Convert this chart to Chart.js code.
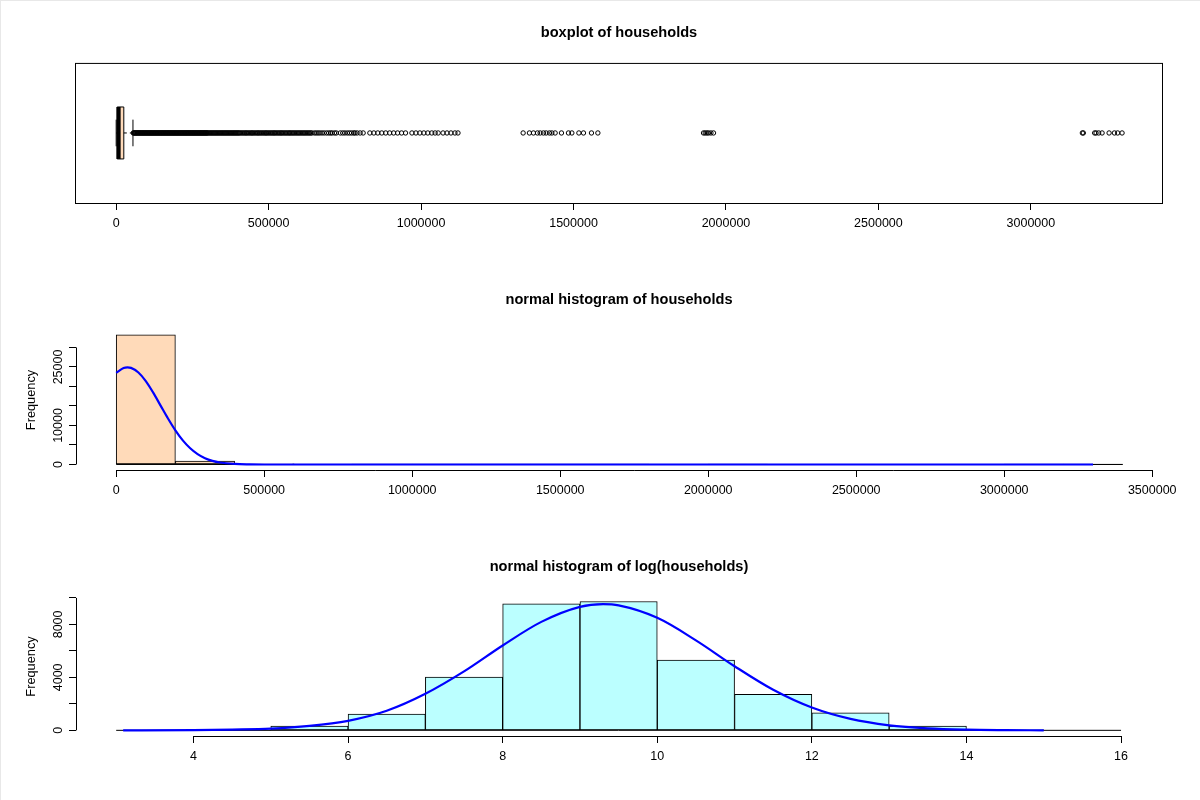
<!DOCTYPE HTML>
<html>
<head>
    <meta charset="utf-8">
    <script src="https://cdn.jsdelivr.net/npm/chart.js"></script>
    <style>
        html, body { margin: 0; padding: 0; background: white; overflow: hidden; }
        canvas { position: absolute; left: 0; }
        #edgeTop { position: absolute; left: 0; top: 0; width: 1200px; height: 1px; background: #e8e8e8; z-index: 2; }
        #edgeLeft { position: absolute; left: 0; top: 0; width: 1px; height: 800px; background: #e8e8e8; z-index: 2; }
    </style>
</head>
<body>

<canvas id="boxChart" width="1200" height="267" style="top:0"></canvas>
<canvas id="histChart" width="1200" height="267" style="top:267px"></canvas>
<canvas id="logChart" width="1200" height="266" style="top:534px"></canvas>
<div id="edgeTop"></div>
<div id="edgeLeft"></div>

<script type="text/javascript">
    const titles = ['boxplot of households', 'normal histogram of households', 'normal histogram of log(households)'];
    const yTitle = 'Frequency';

    // boxplot: min, q1, median, q3, upper whisker
    const boxStats = [0, 3300, 9000, 25000, 55000];
    const boxTicks = [0, 500000, 1000000, 1500000, 2000000, 2500000, 3000000];
    const outliers = [
        56000, 58000, 60000, 62000, 64000, 66000, 68000, 70000, 72000, 74000, 76000, 78000, 80000, 82000, 84000,
        86000, 88000, 90000, 92000, 94000, 96000, 98000, 100000, 102000, 104000, 106000, 108000, 110000, 112000,
        114000, 116000, 118000, 120000, 122000, 124000, 126000, 128000, 130000, 132000, 134000, 136000, 138000,
        140000, 142000, 144000, 146000, 148000, 150000, 152000, 154000, 156000, 158000, 160000, 162000, 164000,
        166000, 168000, 170000, 172000, 174000, 176000, 178000, 180000, 182000, 184000, 186000, 188000, 190000,
        192000, 194000, 196000, 198000, 200000, 202000, 204000, 206000, 208000, 210000, 212000, 214000, 216000,
        218000, 220000, 222000, 224000, 226000, 228000, 230000, 232000, 234000, 236000, 238000, 240000, 242000,
        244000, 246000, 248000, 250000, 252000, 254000, 256000, 258000, 260000, 262000, 264000, 266000, 268000,
        270000, 272000, 274000, 276000, 278000, 280000, 282000, 284000, 286000, 288000, 290000, 292000, 294000,
        296000, 298000, 300000, 303000, 306000, 309000, 312000, 315000, 318000, 321000, 324000, 327000, 330000,
        333000, 336000, 339000, 342000, 345000, 348000, 351000, 354000, 357000, 360000, 363000, 366000, 369000,
        372000, 375000, 378000, 381000, 384000, 387000, 390000, 393000, 396000, 399000, 402000, 405000, 409000,
        413000, 417000, 421000, 425000, 428000, 432000, 436000, 440000, 444000, 447000, 451000, 455000, 459000,
        463000, 466000, 470000, 474000, 478000, 482000, 486000, 490000, 493000, 497000, 501000, 505000, 509000,
        513000, 517000, 520000, 524000, 528000, 532000, 536000, 540000, 543000, 547000, 551000, 555000, 559000,
        563000, 567000, 570000, 574000, 578000, 582000, 586000, 590000, 594000, 598000, 602000, 606000, 610000,
        614000, 618000, 622000, 626000, 630000, 634000, 638000, 642000, 650000, 656000, 662000, 668000, 675000,
        682000, 690000, 697000, 703000, 708000, 716000, 722000, 735000, 743000, 750000, 758000, 765000, 772000,
        779000, 783000, 790000, 800000, 810000, 832000, 845000, 858000, 871000, 884000, 897000, 910000, 923000,
        936000, 949000, 970000, 983000, 996000, 1009000, 1022000, 1035000, 1046000, 1056000, 1072000, 1085000,
        1098000, 1111000, 1121000,
        1334700, 1355300, 1368500, 1381600, 1390500, 1401300, 1410200, 1421000, 1428900, 1439700, 1460400,
        1483400, 1494500, 1517500, 1532600, 1558800, 1579800,
        1926300, 1931800, 1937400, 1942700, 1950600, 1959100,
        3168800, 3172000, 3209100, 3213700, 3222300, 3233500, 3256500, 3273900, 3284600, 3299000
    ];

    // histogram of households
    const histBreaks = [0, 200000, 400000, 600000, 800000, 1000000, 1200000, 1400000, 1600000, 1800000, 2000000,
        2200000, 2400000, 2600000, 2800000, 3000000, 3200000, 3400000];
    const histCounts = [33200, 900, 200, 50, 20, 10, 5, 5, 3, 0, 3, 0, 0, 0, 0, 2, 3];
    const histCurveX = [0, 25000, 38000, 50000, 75000, 100000, 125000, 150000, 175000, 200000, 225000, 250000, 275000, 300000, 325000, 350000, 400000, 450000, 500000, 3300000];
    const histCurveY = [23500, 24730, 24900, 24760, 23570, 21370, 18420, 15100, 11790, 8750, 6170, 4150, 2660, 1610, 930, 520, 135, 28, 0, 0];
    const histXTicks = [0, 500000, 1000000, 1500000, 2000000, 2500000, 3000000, 3500000];
    const histYTicks = [0, 5000, 10000, 15000, 20000, 25000, 30000];
    const histYLabels = [0, 10000, 25000];

    // histogram of log(households)
    const logBreaks = [3, 4, 5, 6, 7, 8, 9, 10, 11, 12, 13, 14, 15, 16];
    const logCounts = [0, 20, 330, 1220, 4030, 9550, 9730, 5300, 2720, 1320, 320, 30, 0];
    const logCurveX = [3.09, 4, 4.5, 5, 5.5, 6, 6.5, 7, 7.5, 8, 8.5, 9, 9.3, 9.5, 10, 10.5, 11, 11.5, 12, 12.5, 13, 13.5, 14, 14.5, 15];
    const logCurveY = [0, 12, 55, 125, 330, 720, 1480, 2760, 4450, 6410, 8190, 9325, 9525, 9435, 8495, 6795, 4840, 3060, 1720, 860, 380, 150, 53, 17, 0];
    const logXTicks = [4, 6, 8, 10, 12, 14, 16];
    const logYTicks = [0, 2000, 4000, 6000, 8000, 10000];
    const logYLabels = [0, 4000, 8000];

    const peach = '#FFDAB9';
    const cyan = '#BBFFFF';
    const tickFont = { size: 12.5 };

    Chart.defaults.color = 'black';
    Chart.defaults.font.family = '"Liberation Sans", Arial, sans-serif';
    Chart.defaults.font.size = 12;
    Chart.defaults.animation = false;

    // R draws the axis line only from first to last tick
    const axisLines = {
        id: 'axisLines',
        afterDraw(chart, args, opts) {
            const ctx = chart.ctx;
            const a = chart.chartArea;
            ctx.save();
            ctx.strokeStyle = 'black';
            ctx.lineWidth = 1;
            if (opts.frame) {
                ctx.strokeRect(a.left - 0.5, a.top + 0.5, a.right - a.left + 1, a.bottom - a.top);
            } else {
                const x = chart.scales.x, y = chart.scales.y;
                ctx.beginPath();
                ctx.moveTo(x.getPixelForTick(0), a.bottom + 0.5);
                ctx.lineTo(x.getPixelForTick(x.ticks.length - 1), a.bottom + 0.5);
                ctx.moveTo(a.left + 0.5, y.getPixelForTick(0));
                ctx.lineTo(a.left + 0.5, y.getPixelForTick(y.ticks.length - 1));
                ctx.stroke();
            }
            ctx.restore();
        }
    };

    function titleOptions(text) {
        return {
            display: true,
            text: text,
            fullSize: false,
            font: { size: 14.6, weight: 'bold' },
            padding: { top: 24.4, bottom: 21 }
        };
    }

    function xScale(min, max, ticks) {
        return {
            type: 'linear',
            min: min,
            max: max,
            offset: false,
            afterBuildTicks: s => { s.ticks = ticks.map(v => ({ value: v })); },
            afterFit: s => { s.height = 64; },
            border: { display: false },
            grid: { offset: false, drawOnChartArea: false, tickLength: 7, tickColor: 'black' },
            ticks: { autoSkip: false, maxRotation: 0, padding: 6, font: tickFont, callback: v => String(v) }
        };
    }

    function yScale(min, max, ticks, labels, labelPadding) {
        return {
            type: 'linear',
            min: min,
            max: max,
            afterBuildTicks: s => { s.ticks = ticks.map(v => ({ value: v })); },
            afterFit: s => { s.width = 76; },
            border: { display: false },
            grid: { drawOnChartArea: false, tickLength: 7, tickColor: 'black' },
            title: { display: true, text: yTitle, font: { size: 12.8 }, padding: { top: 24, bottom: 0 } },
            ticks: {
                autoSkip: false, minRotation: 90, crossAlign: 'center', padding: labelPadding, font: tickFont,
                callback: v => labels.includes(v) ? String(v) : ''
            }
        };
    }

    function histDatasets(breaks, counts, fillColor, curveX, curveY) {
        return [
            {
                type: 'line',
                data: curveX.map((x, i) => ({ x: x, y: curveY[i] })),
                borderColor: '#0000FF',
                borderWidth: 2.2,
                pointRadius: 0,
                cubicInterpolationMode: 'monotone'
            },
            {
                type: 'line',
                data: [{ x: breaks[0], y: 0 }, { x: breaks[breaks.length - 1], y: 0 }],
                borderColor: 'black',
                borderWidth: 1,
                pointRadius: 0
            },
            {
                type: 'bar',
                data: counts.map((c, i) => ({ x: (breaks[i] + breaks[i + 1]) / 2, y: c })),
                backgroundColor: fillColor,
                borderColor: 'black',
                borderWidth: 1,
                borderSkipped: false,
                barPercentage: 1,
                categoryPercentage: 1
            }
        ];
    }

    function histChart(id, title, datasets, xs, ys) {
        new Chart(document.getElementById(id), {
            data: { datasets: datasets },
            options: {
                responsive: false,
                layout: { padding: { right: 38 } },
                plugins: { legend: { display: false }, tooltip: { enabled: false }, title: titleOptions(title), axisLines: {} },
                scales: { x: xs, y: ys }
            },
            plugins: [axisLines]
        });
    }

    // boxplot panel, first dataset ends up on top
    const boxHalf = 0.371;
    const stapleHalf = 0.19;
    const [bMin, bQ1, bMed, bQ3, bMax] = boxStats;

    function segment(points, extra) {
        return Object.assign({
            type: 'scatter',
            showLine: true,
            data: points.map(p => ({ x: p[0], y: p[1] })),
            borderColor: 'black',
            borderWidth: 1,
            pointRadius: 0
        }, extra);
    }

    new Chart(document.getElementById('boxChart'), {
        data: {
            datasets: [
                {
                    type: 'scatter',
                    data: outliers.map(v => ({ x: v, y: 0 })),
                    pointRadius: 2.2,
                    borderWidth: 1,
                    pointBorderColor: 'black',
                    pointBackgroundColor: 'rgba(0,0,0,0)'
                },
                segment([[bMed, -boxHalf], [bMed, boxHalf]], { borderWidth: 3.4 }),
                segment([[bQ1, -boxHalf], [bQ3, -boxHalf], [bQ3, boxHalf], [bQ1, boxHalf], [bQ1, -boxHalf]]),
                segment([[bMin, 0], [bQ1, 0]], { borderDash: [3, 3] }),
                segment([[bQ3, 0], [bMax, 0]], { borderDash: [3, 3] }),
                segment([[bMin, -stapleHalf], [bMin, stapleHalf]]),
                segment([[bMax, -stapleHalf], [bMax, stapleHalf]]),
                segment([[bQ1, boxHalf], [bQ3, boxHalf]], { borderWidth: 0, fill: '+1', backgroundColor: peach }),
                segment([[bQ1, -boxHalf], [bQ3, -boxHalf]], { borderWidth: 0 })
            ]
        },
        options: {
            responsive: false,
            layout: { padding: { left: 76, right: 38 } },
            plugins: { legend: { display: false }, tooltip: { enabled: false }, title: titleOptions(titles[0]), axisLines: { frame: true } },
            scales: {
                x: xScale(-131800, 3430000, boxTicks),
                y: { display: false, min: -1, max: 1 }
            }
        },
        plugins: [axisLines]
    });

    histChart('histChart', titles[1],
        histDatasets(histBreaks, histCounts, peach, histCurveX, histCurveY),
        xScale(-135800, 3533000, histXTicks),
        yScale(-1410, 34490, histYTicks, histYLabels, -6.7));

    histChart('logChart', titles[2],
        histDatasets(logBreaks, logCounts, cyan, logCurveX, logCurveY),
        xScale(2.48, 16.53, logXTicks),
        yScale(-428, 10075, logYTicks, logYLabels, -3.3));
</script>
</body>
</html>
